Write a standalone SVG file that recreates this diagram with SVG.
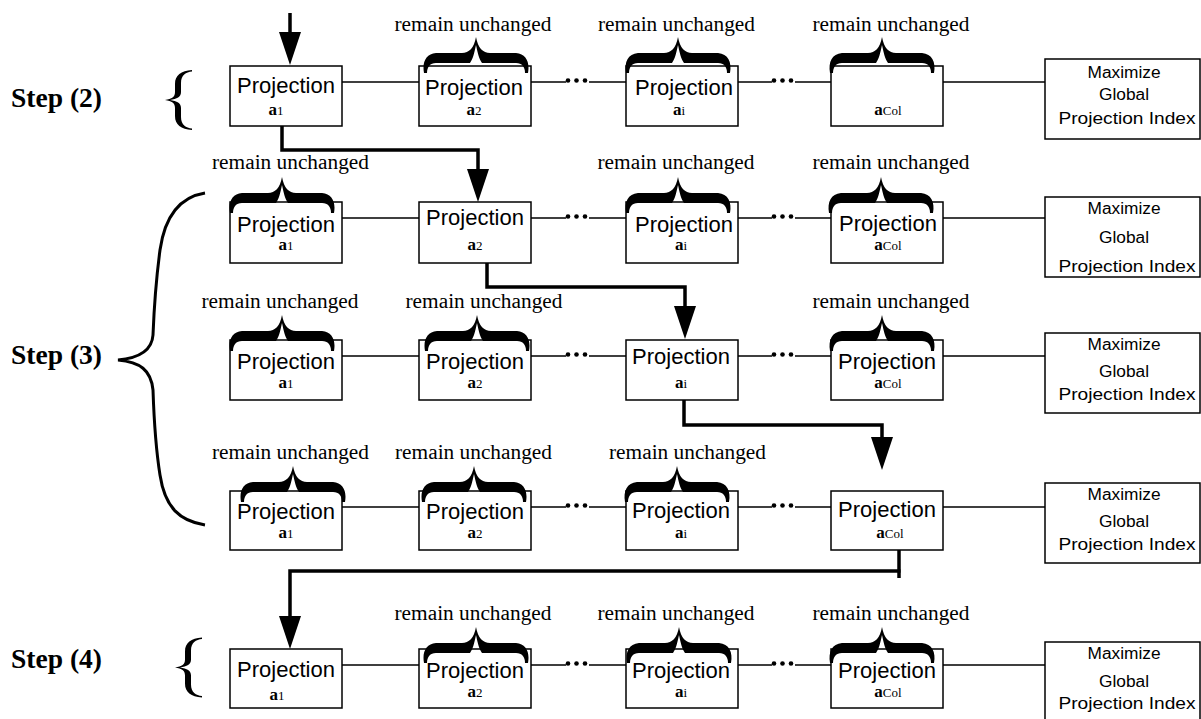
<svg xmlns="http://www.w3.org/2000/svg" width="1201" height="719" viewBox="0 0 1201 719">
<style>
.box{fill:#fff;stroke:#000;stroke-width:1.5}
.mbox{fill:#fff;stroke:#000;stroke-width:1.5}
.thin{fill:none;stroke:#000;stroke-width:1.5}
.thick{fill:none;stroke:#000;stroke-width:3.5}
.dot{fill:#000}
.proj{font-family:"Liberation Sans",Arial,sans-serif;font-size:22px;text-anchor:middle;fill:#000}
.rem{font-family:"Liberation Serif","Times New Roman",serif;font-size:20px;text-anchor:middle;fill:#000}
.step{font-family:"Liberation Serif","Times New Roman",serif;font-size:27px;font-weight:bold;fill:#000}
.alab{font-family:"Liberation Serif","Times New Roman",serif;font-size:17px;text-anchor:middle;fill:#000}
.ab{font-weight:bold}
.sub{font-size:13px}
.max{font-family:"Liberation Sans",Arial,sans-serif;font-size:16px;text-anchor:middle;fill:#000}
.stepbrace{fill:#000}
.bigbrace{fill:none;stroke:#000;stroke-width:3}
</style>
<defs>
<path id="brace" fill="#000" d="M2,36 C0,25 4,17 14,16 L40,16 C47,16 52,11 54,0 C56,11 61,16 68,16 L94,16 C104,17 108,25 106,36 L103,36 C103,30 100,26 94,26 L60,26 C57,22 55.5,15 54,8 C52.5,15 51,22 48,26 L14,26 C8,26 5,30 5,36 Z"/>
<path id="sbrace" d="M192,70 C181,71 175,75 175,84 L175,92 C175,97 172,99 165,100 C172,101 175,103 175,108 L175,116 C175,125 181,129 192,130 L192,128.5 C186,128 181,125 181,117 L181,108 C181,103 177,101 170,100 C177,99 181,97 181,92 L181,83 C181,75 186,72 192,71.5 Z"/>
<marker id="ah" viewBox="0 0 33 22" markerWidth="33" markerHeight="22" refX="1" refY="11" orient="auto" markerUnits="userSpaceOnUse">
<path d="M0,0 L33,11 L0,22 Z" fill="#000"/>
</marker>
</defs>

<g id="step-labels">
<g id="step2"><text class="step" x="11" y="107" textLength="91" lengthAdjust="spacingAndGlyphs">Step (2)</text><use href="#sbrace" class="stepbrace"/></g>
<g id="step3"><text class="step" x="11" y="364" textLength="91" lengthAdjust="spacingAndGlyphs">Step (3)</text><path class="bigbrace" d="M205,193 C180,197 165,215 160,250 C156,280 154,310 153,335 C152,350 140,358 118,360 C140,362 151,370 153,390 C154,420 156,450 160,475 C165,508 180,521 205,525"/></g>
<g id="step4"><text class="step" x="11" y="668" textLength="91" lengthAdjust="spacingAndGlyphs">Step (4)</text><use href="#sbrace" class="stepbrace" transform="translate(10,567.5)"/></g>
</g>

<g id="connectors">
<path class="thin" d="M342,82 H419 M531,82 H566 M589,82 H626 M738,82 H772 M795,82 H831 M943,82 H1045"/>
<circle class="dot" cx="568" cy="80.5" r="2.3"/><circle class="dot" cx="576.5" cy="80.5" r="2.3"/><circle class="dot" cx="585" cy="80.5" r="2.3"/>
<circle class="dot" cx="774" cy="80.5" r="2.3"/><circle class="dot" cx="782.5" cy="80.5" r="2.3"/><circle class="dot" cx="791" cy="80.5" r="2.3"/>
<path class="thin" d="M342,218 H419 M531,218 H566 M589,218 H626 M738,218 H772 M795,218 H831 M943,218 H1045"/>
<circle class="dot" cx="568" cy="216.5" r="2.3"/><circle class="dot" cx="576.5" cy="216.5" r="2.3"/><circle class="dot" cx="585" cy="216.5" r="2.3"/>
<circle class="dot" cx="774" cy="216.5" r="2.3"/><circle class="dot" cx="782.5" cy="216.5" r="2.3"/><circle class="dot" cx="791" cy="216.5" r="2.3"/>
<path class="thin" d="M342,356 H419 M531,356 H566 M589,356 H626 M738,356 H772 M795,356 H831 M943,356 H1045"/>
<circle class="dot" cx="568" cy="354.5" r="2.3"/><circle class="dot" cx="576.5" cy="354.5" r="2.3"/><circle class="dot" cx="585" cy="354.5" r="2.3"/>
<circle class="dot" cx="774" cy="354.5" r="2.3"/><circle class="dot" cx="782.5" cy="354.5" r="2.3"/><circle class="dot" cx="791" cy="354.5" r="2.3"/>
<path class="thin" d="M342,507 H419 M531,507 H566 M589,507 H626 M738,507 H772 M795,507 H831 M943,507 H1045"/>
<circle class="dot" cx="568" cy="505.5" r="2.3"/><circle class="dot" cx="576.5" cy="505.5" r="2.3"/><circle class="dot" cx="585" cy="505.5" r="2.3"/>
<circle class="dot" cx="774" cy="505.5" r="2.3"/><circle class="dot" cx="782.5" cy="505.5" r="2.3"/><circle class="dot" cx="791" cy="505.5" r="2.3"/>
<path class="thin" d="M342,665 H419 M531,665 H566 M589,665 H626 M738,665 H772 M795,665 H831 M943,665 H1045"/>
<circle class="dot" cx="568" cy="663.5" r="2.3"/><circle class="dot" cx="576.5" cy="663.5" r="2.3"/><circle class="dot" cx="585" cy="663.5" r="2.3"/>
<circle class="dot" cx="774" cy="663.5" r="2.3"/><circle class="dot" cx="782.5" cy="663.5" r="2.3"/><circle class="dot" cx="791" cy="663.5" r="2.3"/>
<path class="thick" d="M290,13 V33" marker-end="url(#ah)"/>
<path class="thick" d="M282,126 V150 H478 V170" marker-end="url(#ah)"/>
<path class="thick" d="M487,263 V287 H685 V307" marker-end="url(#ah)"/>
<path class="thick" d="M684,400 V425 H882 V438" marker-end="url(#ah)"/>
<path class="thick" d="M899,550 V578"/>
<path class="thick" d="M900.5,571 H290 V617" marker-end="url(#ah)"/>
</g>

<g id="r1c1"><rect class="box" x="230" y="66" width="112" height="60"/><text class="proj" x="286" y="93">Projection</text><text class="alab" x="276" y="115"><tspan class="ab">a</tspan><tspan class="sub">1</tspan></text></g>
<g id="r1c2"><rect class="box" x="419" y="66" width="112" height="60"/><use href="#brace" transform="translate(422,37)"/><text class="rem" x="473" y="31" textLength="157" lengthAdjust="spacingAndGlyphs">remain unchanged</text><text class="proj" x="474" y="95">Projection</text><text class="alab" x="474" y="115"><tspan class="ab">a</tspan><tspan class="sub">2</tspan></text></g>
<g id="r1c3"><rect class="box" x="626" y="66" width="112" height="60"/><use href="#brace" transform="translate(624,37)"/><text class="rem" x="676.5" y="31" textLength="157" lengthAdjust="spacingAndGlyphs">remain unchanged</text><text class="proj" x="684" y="95">Projection</text><text class="alab" x="679" y="115"><tspan class="ab">a</tspan><tspan class="sub">i</tspan></text></g>
<g id="r1c4"><rect class="box" x="831" y="66" width="112" height="60"/><use href="#brace" transform="translate(828,37)"/><text class="rem" x="891" y="31" textLength="157" lengthAdjust="spacingAndGlyphs">remain unchanged</text><text class="alab" x="888" y="115"><tspan class="ab">a</tspan><tspan class="sub">Col</tspan></text></g>
<g id="r1max"><rect class="mbox" x="1045" y="59" width="155" height="80"/><text class="max" x="1124" y="78" textLength="73" lengthAdjust="spacingAndGlyphs">Maximize</text><text class="max" x="1124" y="100" textLength="50" lengthAdjust="spacingAndGlyphs">Global</text><text class="max" x="1127" y="124" textLength="137" lengthAdjust="spacingAndGlyphs">Projection Index</text></g>

<g id="r2c1"><rect class="box" x="230" y="202" width="112" height="61"/><use href="#brace" transform="translate(228,177)"/><text class="rem" x="290.5" y="169" textLength="157" lengthAdjust="spacingAndGlyphs">remain unchanged</text><text class="proj" x="286" y="232">Projection</text><text class="alab" x="286" y="250"><tspan class="ab">a</tspan><tspan class="sub">1</tspan></text></g>
<g id="r2c2"><rect class="box" x="419" y="202" width="112" height="61"/><text class="proj" x="475" y="225">Projection</text><text class="alab" x="475" y="250"><tspan class="ab">a</tspan><tspan class="sub">2</tspan></text></g>
<g id="r2c3"><rect class="box" x="626" y="202" width="112" height="61"/><use href="#brace" transform="translate(624,177)"/><text class="rem" x="676" y="169" textLength="157" lengthAdjust="spacingAndGlyphs">remain unchanged</text><text class="proj" x="684" y="232">Projection</text><text class="alab" x="681" y="250"><tspan class="ab">a</tspan><tspan class="sub">i</tspan></text></g>
<g id="r2c4"><rect class="box" x="831" y="202" width="112" height="61"/><use href="#brace" transform="translate(827,177)"/><text class="rem" x="891" y="169" textLength="157" lengthAdjust="spacingAndGlyphs">remain unchanged</text><text class="proj" x="888" y="231">Projection</text><text class="alab" x="888" y="250"><tspan class="ab">a</tspan><tspan class="sub">Col</tspan></text></g>
<g id="r2max"><rect class="mbox" x="1045" y="197" width="155" height="80"/><text class="max" x="1124" y="214" textLength="73" lengthAdjust="spacingAndGlyphs">Maximize</text><text class="max" x="1124" y="243" textLength="50" lengthAdjust="spacingAndGlyphs">Global</text><text class="max" x="1127" y="272" textLength="137" lengthAdjust="spacingAndGlyphs">Projection Index</text></g>

<g id="r3c1"><rect class="box" x="230" y="340" width="112" height="60"/><use href="#brace" transform="translate(228,315)"/><text class="rem" x="280" y="308" textLength="157" lengthAdjust="spacingAndGlyphs">remain unchanged</text><text class="proj" x="286" y="369">Projection</text><text class="alab" x="286" y="388"><tspan class="ab">a</tspan><tspan class="sub">1</tspan></text></g>
<g id="r3c2"><rect class="box" x="419" y="340" width="112" height="60"/><use href="#brace" transform="translate(423,315)"/><text class="rem" x="484" y="308" textLength="157" lengthAdjust="spacingAndGlyphs">remain unchanged</text><text class="proj" x="475" y="369">Projection</text><text class="alab" x="475" y="388"><tspan class="ab">a</tspan><tspan class="sub">2</tspan></text></g>
<g id="r3c3"><rect class="box" x="626" y="340" width="112" height="60"/><text class="proj" x="681" y="364">Projection</text><text class="alab" x="681" y="388"><tspan class="ab">a</tspan><tspan class="sub">i</tspan></text></g>
<g id="r3c4"><rect class="box" x="831" y="340" width="112" height="60"/><use href="#brace" transform="translate(828,315)"/><text class="rem" x="891" y="308" textLength="157" lengthAdjust="spacingAndGlyphs">remain unchanged</text><text class="proj" x="887" y="369">Projection</text><text class="alab" x="888" y="388"><tspan class="ab">a</tspan><tspan class="sub">Col</tspan></text></g>
<g id="r3max"><rect class="mbox" x="1045" y="333" width="155" height="80"/><text class="max" x="1124" y="350" textLength="73" lengthAdjust="spacingAndGlyphs">Maximize</text><text class="max" x="1124" y="377" textLength="50" lengthAdjust="spacingAndGlyphs">Global</text><text class="max" x="1127" y="400" textLength="137" lengthAdjust="spacingAndGlyphs">Projection Index</text></g>

<g id="r4c1"><rect class="box" x="230" y="491" width="112" height="59"/><use href="#brace" transform="translate(239,466)"/><text class="rem" x="290.5" y="459" textLength="157" lengthAdjust="spacingAndGlyphs">remain unchanged</text><text class="proj" x="286" y="519">Projection</text><text class="alab" x="286" y="538"><tspan class="ab">a</tspan><tspan class="sub">1</tspan></text></g>
<g id="r4c2"><rect class="box" x="419" y="491" width="112" height="59"/><use href="#brace" transform="translate(420,466)"/><text class="rem" x="473.5" y="459" textLength="157" lengthAdjust="spacingAndGlyphs">remain unchanged</text><text class="proj" x="475" y="519">Projection</text><text class="alab" x="475" y="538"><tspan class="ab">a</tspan><tspan class="sub">2</tspan></text></g>
<g id="r4c3"><rect class="box" x="626" y="491" width="112" height="59"/><use href="#brace" transform="translate(623,466)"/><text class="rem" x="687.5" y="459" textLength="157" lengthAdjust="spacingAndGlyphs">remain unchanged</text><text class="proj" x="681" y="518">Projection</text><text class="alab" x="681" y="538"><tspan class="ab">a</tspan><tspan class="sub">i</tspan></text></g>
<g id="r4c4"><rect class="box" x="831" y="491" width="112" height="59"/><text class="proj" x="887" y="517">Projection</text><text class="alab" x="890" y="538"><tspan class="ab">a</tspan><tspan class="sub">Col</tspan></text></g>
<g id="r4max"><rect class="mbox" x="1045" y="483" width="155" height="80"/><text class="max" x="1124" y="500" textLength="73" lengthAdjust="spacingAndGlyphs">Maximize</text><text class="max" x="1124" y="527" textLength="50" lengthAdjust="spacingAndGlyphs">Global</text><text class="max" x="1127" y="550" textLength="137" lengthAdjust="spacingAndGlyphs">Projection Index</text></g>

<g id="r5c1"><rect class="box" x="230" y="649" width="112" height="59"/><text class="proj" x="286" y="677">Projection</text><text class="alab" x="277" y="700"><tspan class="ab">a</tspan><tspan class="sub">1</tspan></text></g>
<g id="r5c2"><rect class="box" x="419" y="649" width="112" height="59"/><use href="#brace" transform="translate(422,627)"/><text class="rem" x="473" y="620" textLength="157" lengthAdjust="spacingAndGlyphs">remain unchanged</text><text class="proj" x="475" y="678">Projection</text><text class="alab" x="475" y="697"><tspan class="ab">a</tspan><tspan class="sub">2</tspan></text></g>
<g id="r5c3"><rect class="box" x="626" y="649" width="112" height="59"/><use href="#brace" transform="translate(625,627)"/><text class="rem" x="676" y="620" textLength="157" lengthAdjust="spacingAndGlyphs">remain unchanged</text><text class="proj" x="681" y="678">Projection</text><text class="alab" x="681" y="697"><tspan class="ab">a</tspan><tspan class="sub">i</tspan></text></g>
<g id="r5c4"><rect class="box" x="831" y="649" width="112" height="59"/><use href="#brace" transform="translate(828,627)"/><text class="rem" x="891" y="620" textLength="157" lengthAdjust="spacingAndGlyphs">remain unchanged</text><text class="proj" x="887" y="678">Projection</text><text class="alab" x="888" y="697"><tspan class="ab">a</tspan><tspan class="sub">Col</tspan></text></g>
<g id="r5max"><rect class="mbox" x="1045" y="642" width="155" height="82"/><text class="max" x="1124" y="659" textLength="73" lengthAdjust="spacingAndGlyphs">Maximize</text><text class="max" x="1124" y="687" textLength="50" lengthAdjust="spacingAndGlyphs">Global</text><text class="max" x="1127" y="709" textLength="137" lengthAdjust="spacingAndGlyphs">Projection Index</text></g>
</svg>
